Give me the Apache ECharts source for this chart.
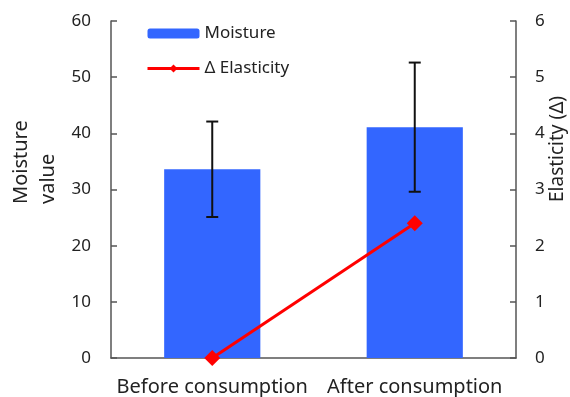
<!DOCTYPE html>
<html>
<head>
<meta charset="utf-8">
<script src="https://cdn.jsdelivr.net/npm/echarts@6/dist/echarts.min.js"></script>
<style>
  html, body { margin: 0; padding: 0; background: #fff; }
  #chart { width: 570px; height: 397px; }
</style>
</head>
<body>
<div id="chart"></div>
<script>
const categories = ['Before consumption', 'After consumption'];
const moisture = [33.6, 41.1];
const moistureErr = [8.5, 11.5];
const elasticity = [0, 2.4];

const FONT = '"Noto Sans", sans-serif';
const TXT = '#222';

const chart = echarts.init(document.getElementById('chart'));

const option = {
    backgroundColor: '#fff',
    textStyle: { fontFamily: FONT },
    grid: { left: 111, right: 54, top: 21, bottom: 39 },
    legend: {
        orient: 'vertical',
        left: 141,
        top: 20,
        itemWidth: 52,
        itemHeight: 10,
        itemGap: 18,
        textStyle: { fontSize: 17, color: TXT, fontFamily: FONT },
        data: [
            { name: 'Moisture' },
            { name: '\u0394 Elasticity', lineStyle: { width: 3, color: '#FF0000' } }
        ]
    },
    xAxis: {
        type: 'category',
        data: categories,
        axisLine: { lineStyle: { color: '#555', width: 1.5 } },
        axisTick: { inside: true, length: 6, lineStyle: { color: '#555', width: 1.5 } },
        axisLabel: { fontSize: 20, color: TXT, margin: 19, interval: 0, fontFamily: FONT }
    },
    yAxis: [
        {
            type: 'value',
            min: 0, max: 60, interval: 10,
            axisLine: { show: true, lineStyle: { color: '#555', width: 1.5 } },
            axisTick: { show: true, inside: true, length: 6, lineStyle: { color: '#555', width: 1.5 } },
            splitLine: { show: false },
            axisLabel: { fontSize: 17, color: TXT, margin: 20, fontFamily: FONT }
        },
        {
            type: 'value',
            min: 0, max: 6, interval: 1,
            position: 'right',
            axisLine: { show: true, lineStyle: { color: '#555', width: 1.5 } },
            axisTick: { show: true, inside: true, length: 6, lineStyle: { color: '#555', width: 1.5 } },
            splitLine: { show: false },
            axisLabel: { fontSize: 17, color: TXT, margin: 19, fontFamily: FONT }
        }
    ],
    graphic: [
        {
            type: 'text',
            x: 8, y: 204,
            rotation: Math.PI / 2,
            style: {
                text: 'Moisture\nvalue',
                fontSize: 20, fill: TXT, fontFamily: FONT,
                align: 'left', verticalAlign: 'top', lineHeight: 27
            }
        },
        {
            type: 'text',
            x: 548, y: 202,
            rotation: Math.PI / 2,
            style: {
                text: 'Elasticity (\u0394)',
                fontSize: 19, fill: TXT, fontFamily: FONT,
                align: 'left', verticalAlign: 'top'
            }
        }
    ],
    series: [
        {
            name: 'Moisture',
            type: 'bar',
            data: moisture,
            barWidth: '47.5%',
            itemStyle: { color: '#3366FF' },
            z: 1
        },
        {
            name: 'error',
            type: 'custom',
            data: moisture.map((v, i) => [i, v - moistureErr[i], v + moistureErr[i]]),
            z: 3,
            renderItem: function (params, api) {
                const lo = api.coord([api.value(0), api.value(1)]);
                const hi = api.coord([api.value(0), api.value(2)]);
                const half = 6;
                const style = { stroke: '#111', lineWidth: 2 };
                return {
                    type: 'group',
                    children: [
                        { type: 'line', shape: { x1: lo[0], y1: lo[1], x2: hi[0], y2: hi[1] }, style: style },
                        { type: 'line', shape: { x1: lo[0] - half, y1: lo[1], x2: lo[0] + half, y2: lo[1] }, style: style },
                        { type: 'line', shape: { x1: hi[0] - half, y1: hi[1], x2: hi[0] + half, y2: hi[1] }, style: style }
                    ]
                };
            }
        },
        {
            name: '\u0394 Elasticity',
            type: 'line',
            yAxisIndex: 1,
            data: elasticity,
            symbol: 'diamond',
            symbolSize: 16,
            clip: false,
            lineStyle: { color: '#FF0000', width: 3 },
            itemStyle: { color: '#FF0000' },
            z: 4
        }
    ]
};

chart.setOption(option);
</script>
</body>
</html>
